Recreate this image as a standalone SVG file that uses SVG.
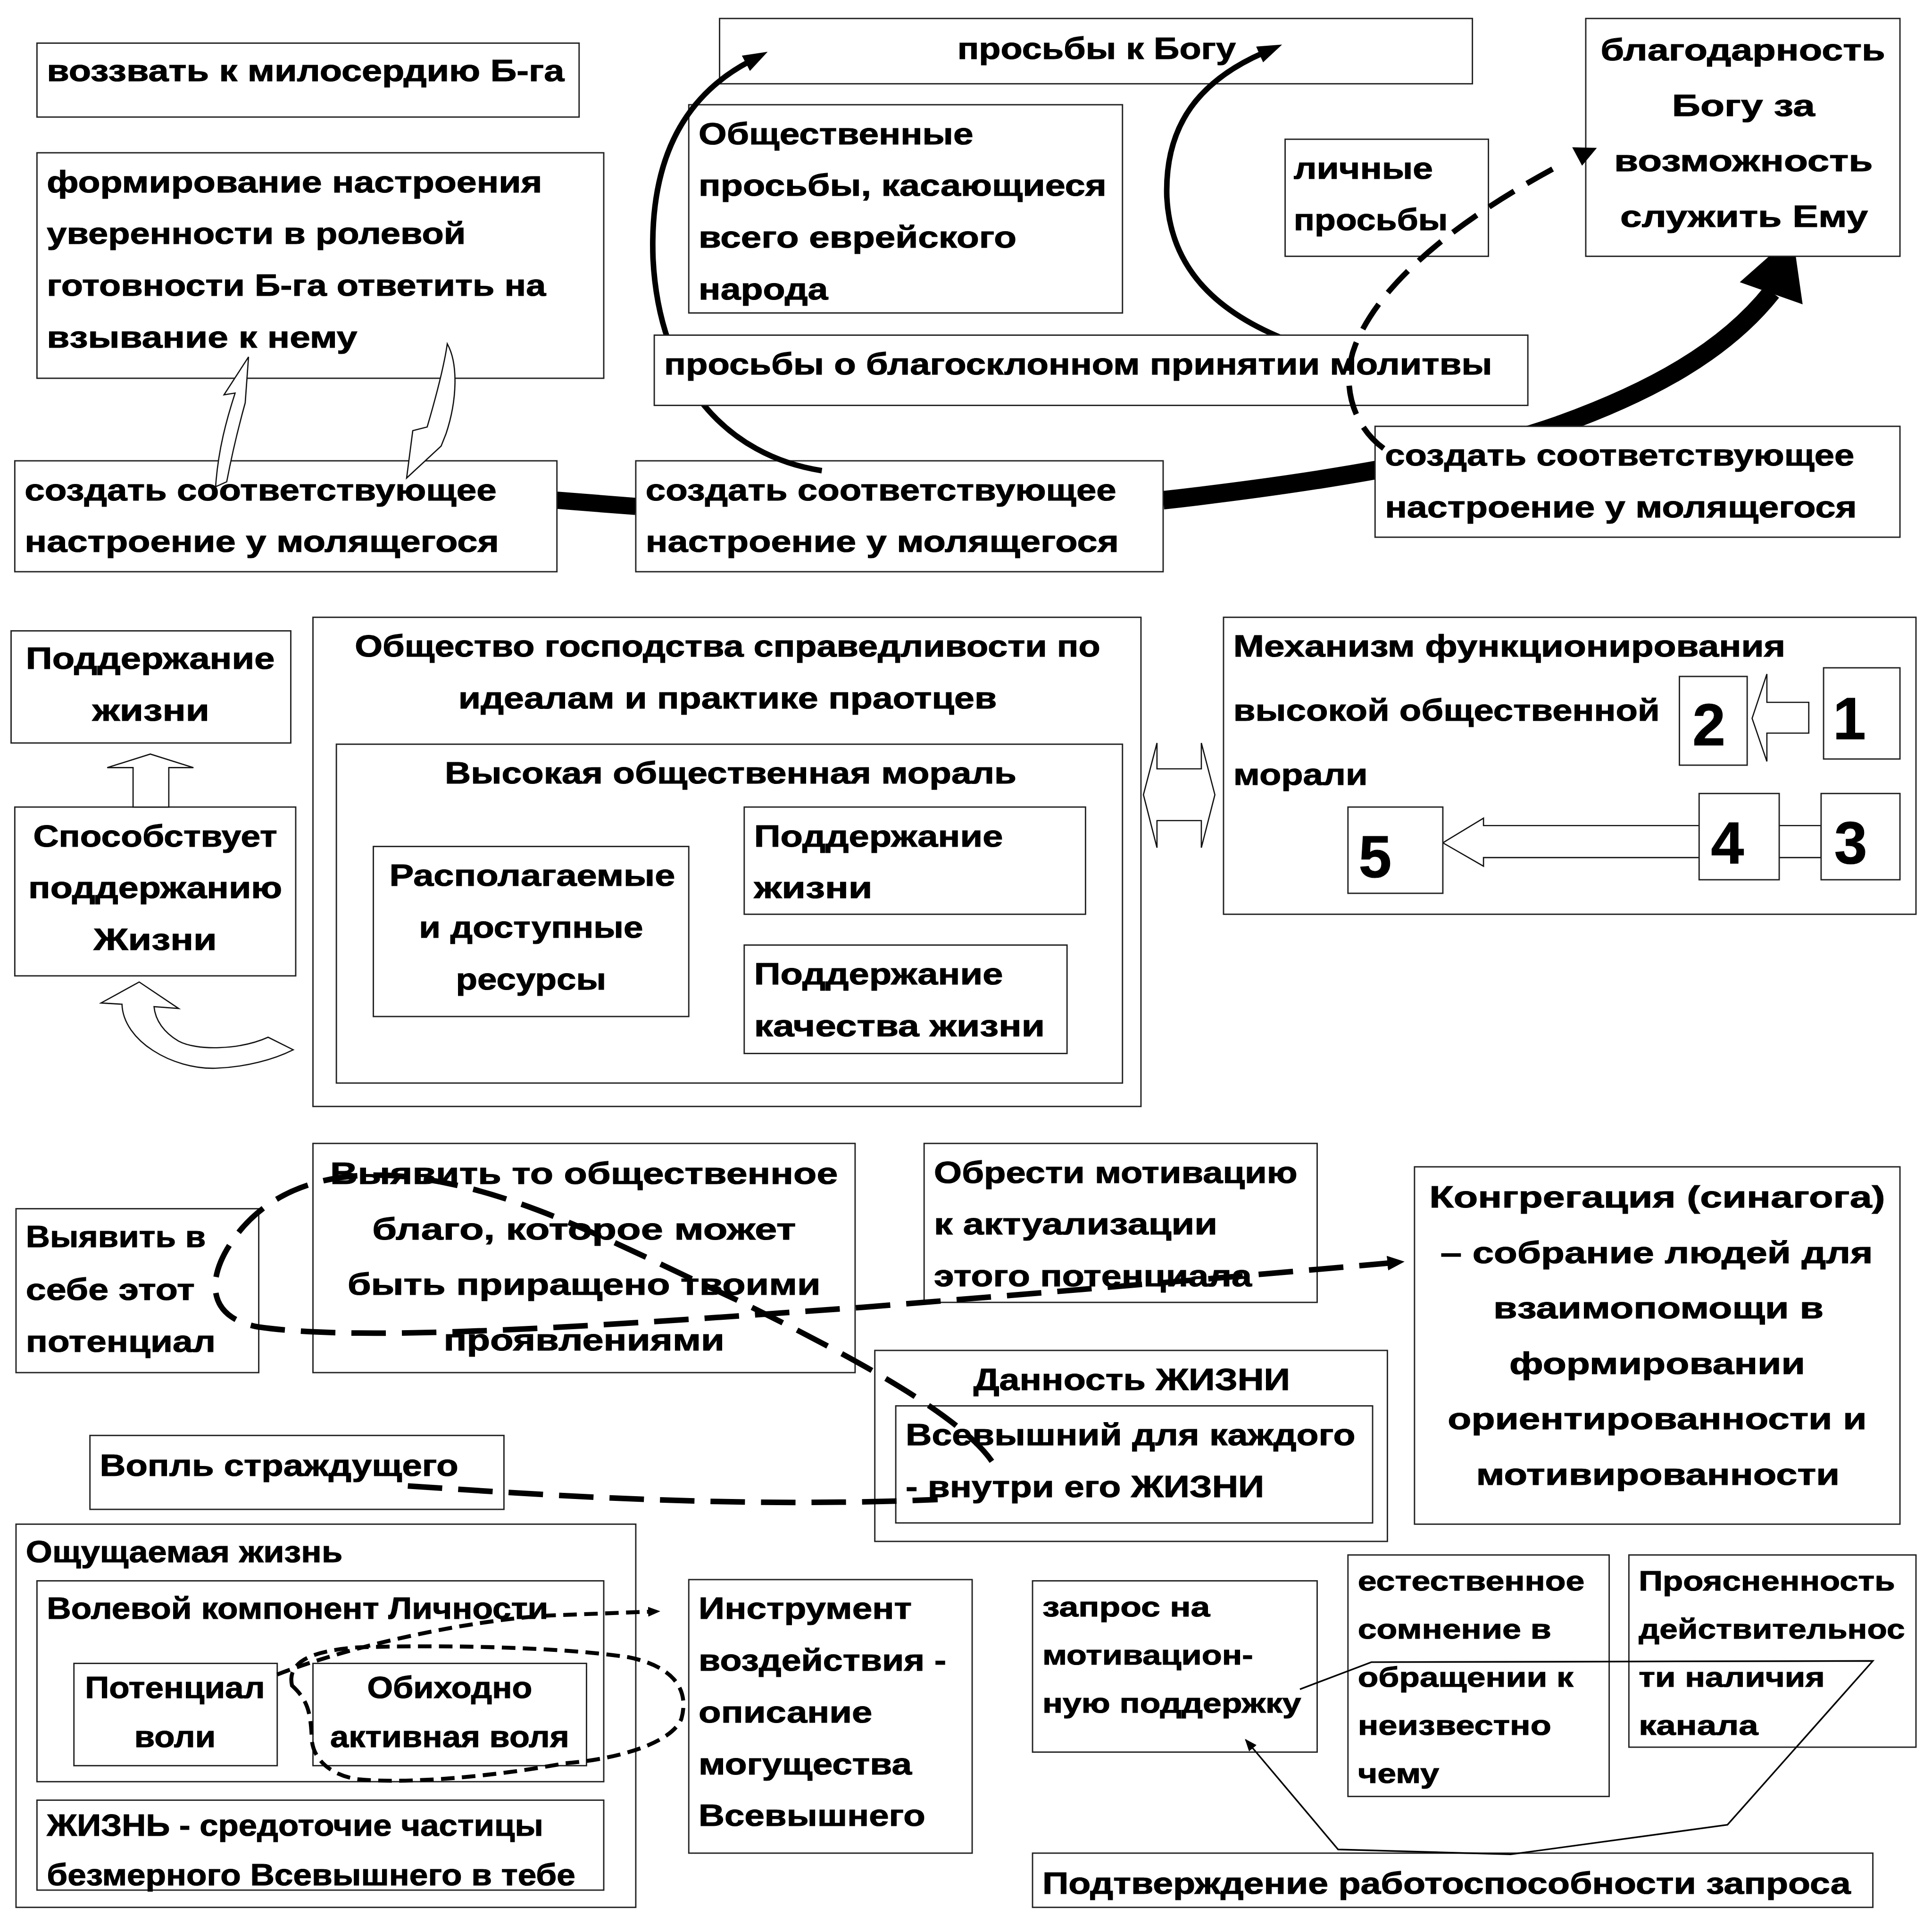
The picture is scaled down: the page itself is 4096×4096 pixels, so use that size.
<svg xmlns="http://www.w3.org/2000/svg" width="4096" height="4096" viewBox="0 0 4096 4096">
<defs>
<style>
.b{fill:#fff;stroke:#222;stroke-width:1.1}
.t{font-family:"Liberation Sans",Arial,sans-serif;font-weight:bold;font-size:25px;fill:#000;stroke:#000;stroke-width:0.45}
.s{font-size:23px}
.n{font-size:48px;text-anchor:middle}
.h{fill:#fff;stroke:#111;stroke-width:1}
.thk{fill:none;stroke:#000;stroke-width:4.5}
.d1{fill:none;stroke:#000;stroke-width:4.5;stroke-dasharray:24 12}
.d2{fill:none;stroke:#000;stroke-width:4.5;stroke-dasharray:28 13}
.d3{fill:none;stroke:#000;stroke-width:3.2;stroke-dasharray:11 6}
.thin{fill:none;stroke:#000;stroke-width:1.3}
</style>
<marker id="ah" viewBox="0 0 20 14" markerUnits="userSpaceOnUse" markerWidth="20" markerHeight="14" refX="3" refY="7" orient="auto"><path d="M0,0 L20,7 L0,14 Z" fill="#000"/></marker>
<marker id="ahd" viewBox="0 0 14 12" markerUnits="userSpaceOnUse" markerWidth="14" markerHeight="12" refX="2" refY="6" orient="auto"><path d="M0,0 L14,6 L0,12 Z" fill="#000"/></marker>
<marker id="ahs" viewBox="0 0 10 8" markerUnits="userSpaceOnUse" markerWidth="10" markerHeight="8" refX="2" refY="4" orient="auto"><path d="M0,0 L10,4 L0,8 Z" fill="#000"/></marker>
<marker id="aht" viewBox="0 0 10 8" markerUnits="userSpaceOnUse" markerWidth="10" markerHeight="8" refX="9" refY="4" orient="auto"><path d="M0,0 L10,4 L0,8 Z" fill="#000"/></marker>
</defs>
<rect width="4096" height="4096" fill="#fff"/>
<g transform="scale(2.61224)">

<g id="connectors-thick">
<line x1="452" y1="406" x2="516" y2="411" stroke="#000" stroke-width="14"/>
<path d="M944,406 C1050,394 1180,375 1265,345 C1340,318 1400,285 1438,237" fill="none" stroke="#000" stroke-width="15"/>
<polygon points="1455,191 1412,229 1463,247" fill="#000"/>
</g>

<g id="n-vozzvat"><rect class="b" x="30" y="35" width="440" height="60"/>
<text class="t" x="38" y="66" textLength="420" lengthAdjust="spacingAndGlyphs">воззвать к милосердию Б-га</text></g>

<g id="n-formirovanie"><rect class="b" x="30" y="124" width="460" height="183"/>
<text class="t" x="38" y="156" textLength="402" lengthAdjust="spacingAndGlyphs">формирование настроения</text>
<text class="t" x="38" y="198" textLength="340" lengthAdjust="spacingAndGlyphs">уверенности в ролевой</text>
<text class="t" x="38" y="240" textLength="405" lengthAdjust="spacingAndGlyphs">готовности Б-га ответить на</text>
<text class="t" x="38" y="282" textLength="252" lengthAdjust="spacingAndGlyphs">взывание к нему</text></g>

<g id="n-sozdat1"><rect class="b" x="12" y="374" width="440" height="90"/>
<text class="t" x="20" y="406" textLength="383" lengthAdjust="spacingAndGlyphs">создать соответствующее</text>
<text class="t" x="20" y="448" textLength="385" lengthAdjust="spacingAndGlyphs">настроение у молящегося</text></g>

<g id="n-sozdat2"><rect class="b" x="516" y="374" width="428" height="90"/>
<text class="t" x="524" y="406" textLength="382" lengthAdjust="spacingAndGlyphs">создать соответствующее</text>
<text class="t" x="524" y="448" textLength="384" lengthAdjust="spacingAndGlyphs">настроение у молящегося</text></g>

<g id="n-sozdat3"><rect class="b" x="1116" y="346" width="426" height="90"/>
<text class="t" x="1124" y="378" textLength="381" lengthAdjust="spacingAndGlyphs">создать соответствующее</text>
<text class="t" x="1124" y="420" textLength="383" lengthAdjust="spacingAndGlyphs">настроение у молящегося</text></g>

<g id="n-prosby-k-bogu"><rect class="b" x="584" y="15" width="611" height="53"/>
<text class="t" x="777" y="48" textLength="226" lengthAdjust="spacingAndGlyphs">просьбы к Богу</text></g>

<g id="n-obshchestvennye"><rect class="b" x="559" y="85" width="352" height="169"/>
<text class="t" x="567" y="117" textLength="223" lengthAdjust="spacingAndGlyphs">Общественные</text>
<text class="t" x="567" y="159" textLength="331" lengthAdjust="spacingAndGlyphs">просьбы, касающиеся</text>
<text class="t" x="567" y="201" textLength="258" lengthAdjust="spacingAndGlyphs">всего еврейского</text>
<text class="t" x="567" y="243" textLength="105" lengthAdjust="spacingAndGlyphs">народа</text></g>

<g id="n-lichnye"><rect class="b" x="1043" y="113" width="165" height="95"/>
<text class="t" x="1050" y="145" textLength="113" lengthAdjust="spacingAndGlyphs">личные</text>
<text class="t" x="1050" y="187" textLength="125" lengthAdjust="spacingAndGlyphs">просьбы</text></g>

<g id="n-blagodarnost"><rect class="b" x="1287" y="15" width="255" height="193"/>
<text class="t" x="1299" y="49" textLength="231" lengthAdjust="spacingAndGlyphs">благодарность</text>
<text class="t" x="1357" y="94" textLength="116" lengthAdjust="spacingAndGlyphs">Богу за</text>
<text class="t" x="1310" y="139" textLength="210" lengthAdjust="spacingAndGlyphs">возможность</text>
<text class="t" x="1315" y="184" textLength="201" lengthAdjust="spacingAndGlyphs">служить Ему</text></g>

<g id="connectors-curves">
<path class="thk" d="M667,382 C590,370 535,310 530,210 C527,130 555,78 608,50" marker-end="url(#ah)"/>
<path class="thk" d="M1047,277 C990,255 950,220 947,160 C945,100 975,65 1025,43" marker-end="url(#ah)"/>
</g>

<g id="n-blagosklonnom"><rect class="b" x="531" y="272" width="709" height="57"/>
<text class="t" x="539" y="304" textLength="672" lengthAdjust="spacingAndGlyphs">просьбы о благосклонном принятии молитвы</text></g>

<g id="connectors-top">
<path class="d1" d="M1123,364 C1097,345 1088,310 1100,280 C1120,230 1180,180 1266,134"/>
<polygon points="1276,119.5 1296,120 1284,134.5" fill="#000"/>
<path class="h" d="M201.7,289.7 L181.8,320.4 L190.8,319 C184,340 177,365 175,395 L184,391 C188,370 194,345 199,327 Z"/>
<path class="h" d="M363,279 C372,295 371,325 362,352 L358,362 L330,388 L335,349.5 L346.7,346.5 C353,325 360,300 363,279 Z"/>
</g>

<g id="n-podderzhanie-left"><rect class="b" x="9" y="512" width="227" height="91"/>
<text class="t" x="21" y="543" textLength="202" lengthAdjust="spacingAndGlyphs">Поддержание</text>
<text class="t" x="75" y="585" textLength="95" lengthAdjust="spacingAndGlyphs">жизни</text></g>

<g id="n-sposobstvuet"><rect class="b" x="12" y="655" width="228" height="137"/>
<text class="t" x="27" y="687" textLength="198" lengthAdjust="spacingAndGlyphs">Способствует</text>
<text class="t" x="23" y="729" textLength="206" lengthAdjust="spacingAndGlyphs">поддержанию</text>
<text class="t" x="76" y="771" textLength="100" lengthAdjust="spacingAndGlyphs">Жизни</text></g>

<g id="n-obshchestvo"><rect class="b" x="254" y="501" width="672" height="397"/>
<text class="t" x="288" y="533" textLength="605" lengthAdjust="spacingAndGlyphs">Общество господства справедливости по</text>
<text class="t" x="372" y="575" textLength="437" lengthAdjust="spacingAndGlyphs">идеалам и практике праотцев</text></g>

<g id="n-moral"><rect class="b" x="273" y="604" width="638" height="275"/>
<text class="t" x="361" y="636" textLength="464" lengthAdjust="spacingAndGlyphs">Высокая общественная мораль</text></g>

<g id="n-resursy"><rect class="b" x="303" y="687" width="256" height="138"/>
<text class="t" x="316" y="719" textLength="232" lengthAdjust="spacingAndGlyphs">Располагаемые</text>
<text class="t" x="340" y="761" textLength="182" lengthAdjust="spacingAndGlyphs">и доступные</text>
<text class="t" x="370" y="803" textLength="122" lengthAdjust="spacingAndGlyphs">ресурсы</text></g>

<g id="n-podderzhanie-zhizni"><rect class="b" x="604" y="655" width="277" height="87"/>
<text class="t" x="612" y="687" textLength="202" lengthAdjust="spacingAndGlyphs">Поддержание</text>
<text class="t" x="612" y="729" textLength="96" lengthAdjust="spacingAndGlyphs">жизни</text></g>

<g id="n-kachestvo"><rect class="b" x="604" y="767" width="262" height="88"/>
<text class="t" x="612" y="799" textLength="202" lengthAdjust="spacingAndGlyphs">Поддержание</text>
<text class="t" x="612" y="841" textLength="236" lengthAdjust="spacingAndGlyphs">качества жизни</text></g>

<g id="n-mehanizm"><rect class="b" x="993" y="501" width="562" height="241"/>
<text class="t" x="1001" y="533" textLength="448" lengthAdjust="spacingAndGlyphs">Механизм функционирования</text>
<text class="t" x="1001" y="585" textLength="346" lengthAdjust="spacingAndGlyphs">высокой общественной</text>
<text class="t" x="1001" y="637" textLength="109" lengthAdjust="spacingAndGlyphs">морали</text></g>

<g id="connectors-middle">
<polygon class="h" points="108,655 108,623 87,623 122,612 157,623 137,623 137,655"/>
<path class="h" d="M113,797 L82,814 L99,815 C100,845 140,868 175,867 C200,866 222,860 238,852 L217.6,841.8 C195,852 160,853 145,845 C133,838 126,828 125,817 L145,818.5 Z"/>
<path class="h" d="M928,645 L939,603 L939,624 L975,624 L975,603 L986,645 L975,688 L975,666 L939,666 L939,688 Z"/>
<path class="h" d="M1422,583 L1434,547 L1434,570 L1468,570 L1468,595 L1434,595 L1434,618 Z"/>
<path class="h" d="M1171,684 L1204,664 L1204,670 L1478,670 L1478,696 L1204,696 L1204,703 Z"/>
</g>

<g id="n-2"><rect class="b" x="1363" y="549" width="55" height="72"/><text class="t n" x="1387" y="605">2</text></g>
<g id="n-1"><rect class="b" x="1480" y="542" width="62" height="74"/><text class="t n" x="1501" y="600">1</text></g>
<g id="n-3"><rect class="b" x="1478" y="644" width="64" height="70"/><text class="t n" x="1502" y="701">3</text></g>
<g id="n-4"><rect class="b" x="1379" y="644" width="65" height="70"/><text class="t n" x="1402" y="701">4</text></g>
<g id="n-5"><rect class="b" x="1094" y="655" width="77" height="70"/><text class="t n" x="1116" y="712">5</text></g>

<g id="n-vyyavit-v-sebe"><rect class="b" x="13" y="981" width="197" height="133"/>
<text class="t" x="21" y="1012" textLength="146" lengthAdjust="spacingAndGlyphs">Выявить в</text>
<text class="t" x="21" y="1055" textLength="137" lengthAdjust="spacingAndGlyphs">себе этот</text>
<text class="t" x="21" y="1097" textLength="154" lengthAdjust="spacingAndGlyphs">потенциал</text></g>

<g id="n-vyyavit-blago"><rect class="b" x="254" y="928" width="440" height="186"/>
<text class="t" x="268" y="961" textLength="412" lengthAdjust="spacingAndGlyphs">Выявить то общественное</text>
<text class="t" x="302" y="1006" textLength="344" lengthAdjust="spacingAndGlyphs">благо, которое может</text>
<text class="t" x="282" y="1051" textLength="384" lengthAdjust="spacingAndGlyphs">быть приращено твоими</text>
<text class="t" x="360" y="1096" textLength="228" lengthAdjust="spacingAndGlyphs">проявлениями</text></g>

<g id="n-obresti"><rect class="b" x="750" y="928" width="319" height="129"/>
<text class="t" x="758" y="960" textLength="295" lengthAdjust="spacingAndGlyphs">Обрести мотивацию</text>
<text class="t" x="758" y="1002" textLength="230" lengthAdjust="spacingAndGlyphs">к актуализации</text>
<text class="t" x="758" y="1044" textLength="258" lengthAdjust="spacingAndGlyphs">этого потенциала</text></g>

<g id="n-kongregaciya"><rect class="b" x="1148" y="947" width="394" height="290"/>
<text class="t" x="1160" y="980" textLength="370" lengthAdjust="spacingAndGlyphs">Конгрегация (синагога)</text>
<text class="t" x="1169" y="1025" textLength="351" lengthAdjust="spacingAndGlyphs">– собрание людей для</text>
<text class="t" x="1212" y="1070" textLength="268" lengthAdjust="spacingAndGlyphs">взаимопомощи в</text>
<text class="t" x="1225" y="1115" textLength="240" lengthAdjust="spacingAndGlyphs">формировании</text>
<text class="t" x="1175" y="1160" textLength="340" lengthAdjust="spacingAndGlyphs">ориентированности и</text>
<text class="t" x="1198" y="1205" textLength="295" lengthAdjust="spacingAndGlyphs">мотивированности</text></g>

<g id="n-dannost"><rect class="b" x="710" y="1096" width="416" height="155"/>
<text class="t" x="790" y="1128" textLength="257" lengthAdjust="spacingAndGlyphs">Данность ЖИЗНИ</text></g>

<g id="n-vsevyshniy"><rect class="b" x="727" y="1141" width="387" height="95"/>
<text class="t" x="735" y="1173" textLength="365" lengthAdjust="spacingAndGlyphs">Всевышний для каждого</text>
<text class="t" x="735" y="1215" textLength="291" lengthAdjust="spacingAndGlyphs">- внутри его ЖИЗНИ</text></g>

<g id="n-vopl"><rect class="b" x="73" y="1165" width="336" height="60"/>
<text class="t" x="81" y="1198" textLength="291" lengthAdjust="spacingAndGlyphs">Вопль страждущего</text></g>

<g id="n-oshchushchaemaya"><rect class="b" x="13" y="1237" width="503" height="311"/>
<text class="t" x="21" y="1268" textLength="257" lengthAdjust="spacingAndGlyphs">Ощущаемая жизнь</text></g>

<g id="n-volevoy"><rect class="b" x="30" y="1283" width="460" height="163"/>
<text class="t" x="38" y="1314" textLength="407" lengthAdjust="spacingAndGlyphs">Волевой компонент Личности</text></g>

<g id="n-potencial-voli"><rect class="b" x="60" y="1350" width="165" height="83"/>
<text class="t" x="69" y="1378" textLength="146" lengthAdjust="spacingAndGlyphs">Потенциал</text>
<text class="t" x="109" y="1418" textLength="66" lengthAdjust="spacingAndGlyphs">воли</text></g>

<g id="n-obihodno"><rect class="b" x="254" y="1350" width="222" height="83"/>
<text class="t" x="298" y="1378" textLength="134" lengthAdjust="spacingAndGlyphs">Обиходно</text>
<text class="t" x="268" y="1418" textLength="194" lengthAdjust="spacingAndGlyphs">активная воля</text></g>

<g id="n-zhizn"><rect class="b" x="30" y="1461" width="460" height="73"/>
<text class="t" x="38" y="1490" textLength="403" lengthAdjust="spacingAndGlyphs">ЖИЗНЬ - средоточие частицы</text>
<text class="t" x="38" y="1530" textLength="429" lengthAdjust="spacingAndGlyphs">безмерного Всевышнего в тебе</text></g>

<g id="n-instrument"><rect class="b" x="559" y="1282" width="230" height="222"/>
<text class="t" x="567" y="1314" textLength="173" lengthAdjust="spacingAndGlyphs">Инструмент</text>
<text class="t" x="567" y="1356" textLength="201" lengthAdjust="spacingAndGlyphs">воздействия -</text>
<text class="t" x="567" y="1398" textLength="141" lengthAdjust="spacingAndGlyphs">описание</text>
<text class="t" x="567" y="1440" textLength="173" lengthAdjust="spacingAndGlyphs">могущества</text>
<text class="t" x="567" y="1482" textLength="184" lengthAdjust="spacingAndGlyphs">Всевышнего</text></g>

<g id="n-zapros"><rect class="b" x="838" y="1283" width="231" height="139"/>
<text class="t s" x="846" y="1312" textLength="136" lengthAdjust="spacingAndGlyphs">запрос на</text>
<text class="t s" x="846" y="1351" textLength="171" lengthAdjust="spacingAndGlyphs">мотивацион-</text>
<text class="t s" x="846" y="1390" textLength="210" lengthAdjust="spacingAndGlyphs">ную поддержку</text></g>

<g id="n-somnenie"><rect class="b" x="1094" y="1262" width="212" height="196"/>
<text class="t s" x="1102" y="1291" textLength="184" lengthAdjust="spacingAndGlyphs">естественное</text>
<text class="t s" x="1102" y="1330" textLength="157" lengthAdjust="spacingAndGlyphs">сомнение в</text>
<text class="t s" x="1102" y="1369" textLength="175" lengthAdjust="spacingAndGlyphs">обращении к</text>
<text class="t s" x="1102" y="1408" textLength="157" lengthAdjust="spacingAndGlyphs">неизвестно</text>
<text class="t s" x="1102" y="1447" textLength="66" lengthAdjust="spacingAndGlyphs">чему</text></g>

<g id="n-proyasnennost"><rect class="b" x="1322" y="1262" width="233" height="156"/>
<text class="t s" x="1330" y="1291" textLength="208" lengthAdjust="spacingAndGlyphs">Проясненность</text>
<text class="t s" x="1330" y="1330" textLength="216" lengthAdjust="spacingAndGlyphs">действительнос</text>
<text class="t s" x="1330" y="1369" textLength="151" lengthAdjust="spacingAndGlyphs">ти наличия</text>
<text class="t s" x="1330" y="1408" textLength="97" lengthAdjust="spacingAndGlyphs">канала</text></g>

<g id="n-podtverzhdenie"><rect class="b" x="838" y="1504" width="682" height="44"/>
<text class="t" x="846" y="1537" textLength="656" lengthAdjust="spacingAndGlyphs">Подтверждение работоспособности запроса</text></g>

<g id="connectors-lower">
<path class="d2" d="M805,1186 C780,1150 700,1105 600,1056 C500,1010 420,965 330,955 C260,948 215,970 190,1005 C165,1040 170,1070 210,1077 C300,1090 500,1075 700,1061 C900,1045 1050,1032 1128,1025" marker-end="url(#ahd)"/>
<path class="d2" d="M331,1206 C450,1214 600,1224 761,1217"/>
<path class="d3" d="M225,1359 C300,1330 400,1313 449,1311 L528,1308" marker-end="url(#ahs)"/>
<path class="d3" d="M237,1368 C233,1350 250,1340 290,1337 C350,1335 450,1336 510,1345 C545,1352 560,1370 553,1395 C545,1415 500,1428 459,1431 C400,1442 330,1448 290,1444 C265,1440 253,1425 253,1410 C252,1390 250,1380 237,1368 Z"/>
<path class="thin" d="M1055,1371 L1113,1349 L1520,1348 L1402,1481 L1226,1505 L1086,1501 L1011,1412" marker-end="url(#aht)"/>
</g>

</g>
</svg>
